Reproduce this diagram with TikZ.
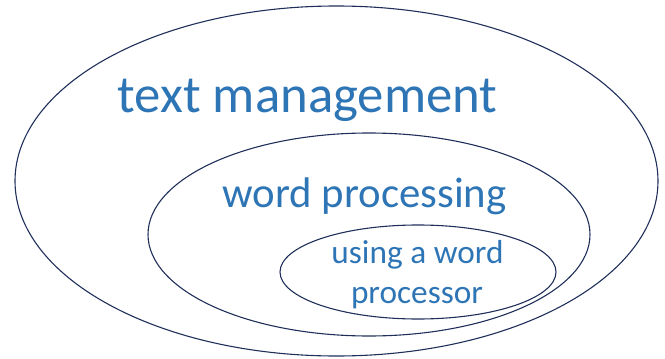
\documentclass[tikz,border=0pt]{standalone}
\usepackage{fontspec}
\setmainfont{Carlito}
\definecolor{txtblue}{HTML}{2E75B6}
\definecolor{linenavy}{HTML}{1F2F5A}
\begin{document}
\begin{tikzpicture}[x=1pt,y=-1pt,
  ring/.style={draw=linenavy,line width=1.1pt},
  lbl/.style={text=txtblue,inner sep=0pt,anchor=base,align=center}]
\useasboundingbox (0,0) rectangle (665,359);
\draw[ring] (336.5,181) ellipse [x radius=321.5,y radius=175];
\draw[ring] (369,234.5) ellipse [x radius=221,y radius=101.5];
\draw[ring] (418,272) ellipse [x radius=138,y radius=47];
\node[lbl,font=\fontsize{52.8}{60}\selectfont] (tm) at (307.5,112) {text management};
\node[lbl,font=\fontsize{42.8}{50}\selectfont] (wp) at (364.5,207) {word processing};
\node[lbl,font=\fontsize{33.3}{40}\selectfont] (uw) at (417.5,263) {using a word};
\node[lbl,font=\fontsize{33.3}{40}\selectfont] (pr) at (417,303) {processor};
\end{tikzpicture}
\end{document}
